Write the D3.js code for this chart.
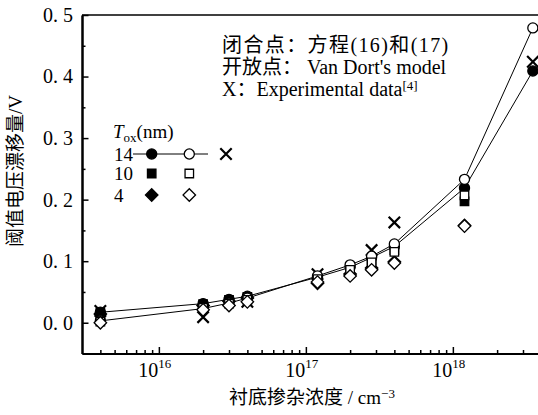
<!DOCTYPE html>
<html>
<head>
<meta charset="utf-8">
<script src="https://cdn.jsdelivr.net/npm/d3@7"></script>
<style>
  body { margin: 0; background: #fff; }
  svg { display: block; }
  text { font-family: "Liberation Serif", "Times New Roman", "Noto Sans CJK SC", serif; font-size: 19px; fill: #000; }
  .tick-label { font-size: 20px; }
  .note { font-size: 20px; }
</style>
</head>
<body>
<svg id="chart" width="538" height="415"></svg>
<script>
// Substrate doping concentration (cm^-3)
const concentration = [4e15, 2e16, 3e16, 4e16, 1.2e17, 2e17, 2.8e17, 4e17, 1.2e18, 3.5e18];

// Threshold voltage shift (V): filled = Eq.(16)&(17), open = Van Dort's model
const eq14 = [0.017, 0.031, 0.038, 0.043, 0.074, 0.090, 0.106, 0.124, 0.219, 0.409];
const vd14 = [0.003, 0.023, 0.032, 0.040, 0.076, 0.094, 0.108, 0.128, 0.233, 0.479];
const eq10 = [0.016, 0.030, 0.037, 0.042, 0.071, 0.087, 0.101, 0.118, 0.197, null];
const vd10 = [0.002, 0.024, 0.031, 0.037, 0.071, 0.086, 0.098, 0.115, 0.207, null];
const eq4  = [0.014, 0.028, 0.035, 0.040, 0.064, 0.079, 0.089, 0.099, 0.158, null];
const vd4  = [0.000, 0.021, 0.028, 0.034, 0.066, 0.076, 0.086, 0.097, 0.157, null];

// Experimental data [4]
const expConcentration = [4e15, 2e16, 4e16, 1.2e17, 2.8e17, 4e17, 3.5e18];
const expShift = [0.019, 0.009, 0.034, 0.079, 0.118, 0.163, 0.424];

// Axis ticks
const xMajorTicks = [1e16, 1e17, 1e18];
const xMajorExponents = ["16", "17", "18"];
const xMinorTicks = [4e15, 5e15, 6e15, 7e15, 8e15, 9e15,
  2e16, 3e16, 4e16, 5e16, 6e16, 7e16, 8e16, 9e16,
  2e17, 3e17, 4e17, 5e17, 6e17, 7e17, 8e17, 9e17,
  2e18, 3e18, 4e18, 5e18, 6e18, 7e18, 8e18, 9e18];
const yMajorTicks = [0.0, 0.1, 0.2, 0.3, 0.4, 0.5];
const yMinorTicks = [0.05, 0.15, 0.25, 0.35, 0.45];

const svg = d3.select("#chart");

const left = 82, decade = 147;
const x = d3.scaleLog()
  .domain([3e15, 1e19])
  .range([left, left + Math.log10(1e19 / 3e15) * decade]);
const y = d3.scaleLinear().domain([-0.05, 0.5]).range([353.5, 15]);

const y0 = y(-0.05);

// ---- axes ----
svg.append("g").attr("transform", `translate(0,${y0})`)
  .call(d3.axisBottom(x).tickValues(xMinorTicks).tickSize(-3.5).tickSizeOuter(0).tickFormat(() => ""));
svg.append("g").attr("transform", `translate(0,${y0})`)
  .call(d3.axisBottom(x).tickValues(xMajorTicks).tickSize(-6.5).tickSizeOuter(0).tickFormat(() => ""));

svg.append("g").attr("transform", `translate(${left},0)`)
  .call(d3.axisLeft(y).tickValues(yMinorTicks).tickSize(-3.5).tickSizeOuter(0).tickFormat(() => ""));
const yMajor = svg.append("g").attr("transform", `translate(${left},0)`)
  .call(d3.axisLeft(y).tickValues(yMajorTicks).tickSize(-6.5).tickSizeOuter(0).tickPadding(9).tickFormat(() => ""));
yMajor.selectAll(".tick text").attr("class", "tick-label").each(function (d) {
  const parts = d.toFixed(1).split(".");
  const t = d3.select(this);
  t.append("tspan").text(parts[0] + ".");
  t.append("tspan").attr("dx", 5).text(parts[1]);
});

svg.selectAll("g").attr("font-family", null).attr("font-size", null);
svg.selectAll(".domain").attr("stroke", "#000").attr("stroke-width", 2);
svg.selectAll(".tick line").attr("stroke", "#000").attr("stroke-width", 1.5);

// decade labels 10^n, each placed with the x scale
const xLabelGroup = svg.append("g");
xMajorTicks.forEach((v, i) => {
  const t = xLabelGroup.append("text")
    .attr("class", "tick-label")
    .attr("x", x(v) - 4)
    .attr("y", y0 + 23)
    .attr("text-anchor", "middle");
  t.append("tspan").text("10");
  t.append("tspan").attr("dy", -9).attr("font-size", "13px").text(xMajorExponents[i]);
});

// top frame line
svg.append("line")
  .attr("x1", left).attr("x2", x.range()[1])
  .attr("y1", y(0.5)).attr("y2", y(0.5))
  .attr("stroke", "#000").attr("stroke-width", 1.6);

// ---- markers ----
const timesSymbol = {
  draw(ctx, size) {
    const r = Math.sqrt(size) / 2;
    ctx.moveTo(-r, -r); ctx.lineTo(r, r);
    ctx.moveTo(-r, r); ctx.lineTo(r, -r);
  }
};
const shapes = {
  circle: { type: d3.symbolCircle, size: 80, rotate: 0 },
  square: { type: d3.symbolSquare, size: 72, rotate: 0 },
  diamond: { type: d3.symbolSquare, size: 78, rotate: 45 },
  times: { type: timesSymbol, size: 130, rotate: 0 }
};

function drawMarker(g, shape, filled, cx, cy) {
  const s = shapes[shape];
  const p = g.append("path")
    .attr("d", d3.symbol(s.type, s.size)())
    .attr("transform", `translate(${cx},${cy}) rotate(${s.rotate})`);
  if (shape === "times") {
    p.attr("fill", "none").attr("stroke", "#000").attr("stroke-width", 2.2);
  } else {
    p.attr("fill", filled ? "#000" : "#fff").attr("stroke", "#000").attr("stroke-width", 1.3);
  }
}

function pairs(xs, ys) {
  return xs.map((c, i) => [c, ys[i]]).filter(d => d[1] !== null);
}

// ---- connecting lines for the 14 nm series ----
const line = d3.line().x(d => x(d[0])).y(d => y(d[1]));
const plot = svg.append("g");
[eq14, vd14].forEach(vals => {
  plot.append("path")
    .attr("d", line(pairs(concentration, vals)))
    .attr("fill", "none").attr("stroke", "#000").attr("stroke-width", 1);
});

// ---- data points ----
pairs(expConcentration, expShift).forEach(d => drawMarker(plot, "times", false, x(d[0]), y(d[1])));
pairs(concentration, eq4).forEach(d => drawMarker(plot, "diamond", true, x(d[0]), y(d[1])));
pairs(concentration, eq10).forEach(d => drawMarker(plot, "square", true, x(d[0]), y(d[1])));
pairs(concentration, eq14).forEach(d => drawMarker(plot, "circle", true, x(d[0]), y(d[1])));
pairs(concentration, vd14).forEach(d => drawMarker(plot, "circle", false, x(d[0]), y(d[1])));
pairs(concentration, vd10).forEach(d => drawMarker(plot, "square", false, x(d[0]), y(d[1])));
pairs(concentration, vd4).forEach(d => drawMarker(plot, "diamond", false, x(d[0]), y(d[1])));

// ---- annotations ----
const notes = svg.append("g");
notes.append("text").attr("class", "note").attr("x", 222).attr("y", 52)
  .style("letter-spacing", "1.4px").text("闭合点：方程(16)和(17)");
notes.append("text").attr("class", "note").attr("x", 222).attr("y", 74).text("开放点： Van Dort's model");
const expNote = notes.append("text").attr("class", "note").attr("x", 222).attr("y", 96);
expNote.append("tspan").text("X：Experimental data");
expNote.append("tspan").attr("dy", "-0.45em").attr("font-size", "13px").text("[4]");

// ---- legend ----
const legend = svg.append("g");
const title = legend.append("text").attr("x", 113).attr("y", 138);
title.append("tspan").attr("font-style", "italic").text("T");
title.append("tspan").attr("dy", 4).attr("font-size", "13px").text("ox");
title.append("tspan").attr("dy", -4).text("(nm)");

const legendRows = [
  { label: "14", shape: "circle", cy: 154 },
  { label: "10", shape: "square", cy: 173.5 },
  { label: "4", shape: "diamond", cy: 195 }
];
legend.append("line")
  .attr("x1", 133).attr("x2", 208).attr("y1", 154).attr("y2", 154)
  .attr("stroke", "#000").attr("stroke-width", 1);
legendRows.forEach(r => {
  legend.append("text").attr("x", 114).attr("y", r.cy + 6.5).text(r.label);
  drawMarker(legend, r.shape, true, 151.7, r.cy);
  drawMarker(legend, r.shape, false, 189.3, r.cy);
});
drawMarker(legend, "times", false, 226, 154);

// ---- axis titles ----
const xTitle = svg.append("text").attr("x", 312).attr("y", 404).attr("text-anchor", "middle");
xTitle.append("tspan").text("衬底掺杂浓度 / cm");
xTitle.append("tspan").attr("dy", "-0.45em").attr("font-size", "13px").text("−3");

svg.append("text")
  .attr("transform", "translate(22,171) rotate(-90)")
  .attr("text-anchor", "middle")
  .text("阈值电压漂移量/V");
</script>
</body>
</html>
